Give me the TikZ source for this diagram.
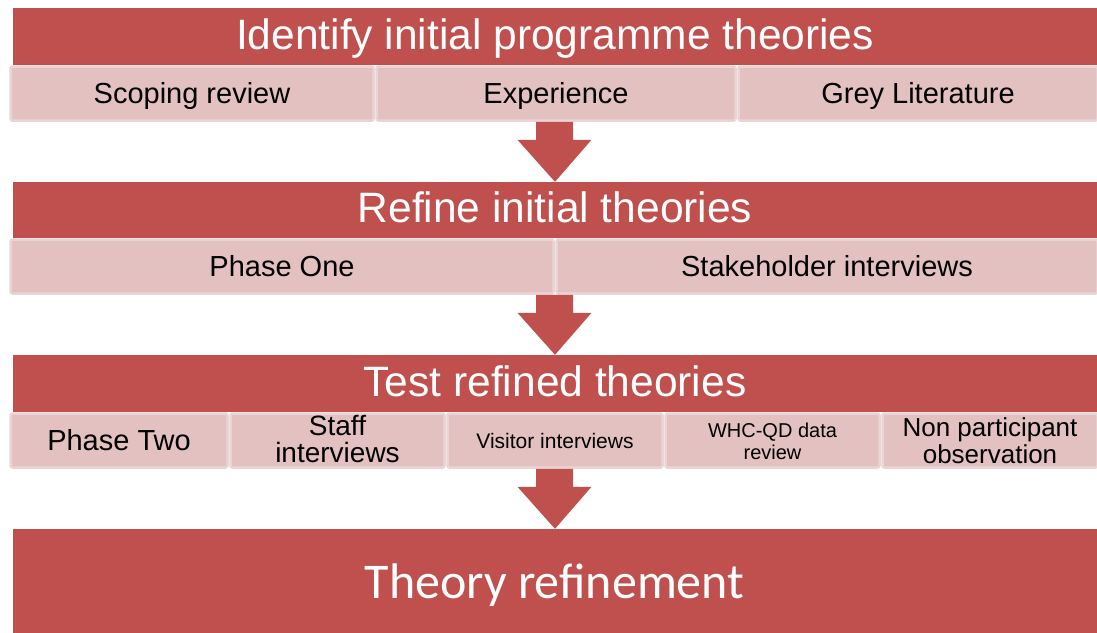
\documentclass[tikz,border=0pt]{standalone}
\usepackage{fontspec}
\setmainfont{Liberation Sans}
\newfontfamily\calfont{Carlito}
\definecolor{barred}{HTML}{C0504D}
\definecolor{subfill}{HTML}{E2C1C0}
\definecolor{subedge}{HTML}{EBD4D4}
\begin{document}
\begin{tikzpicture}[x=1pt,y=-1pt,
  bar/.style={fill=barred, draw=none, inner sep=0pt, minimum width=1084pt},
  subbox/.style={fill=subfill, draw=subedge, line width=2.5pt, rounded corners=2pt, inner sep=0pt, minimum height=54pt},
  title/.style={text=white, inner sep=0pt, anchor=base, font=\fontsize{42.5}{45}\selectfont},
  subtext/.style={text=black, inner sep=0pt, anchor=base, align=center},
  downarrow/.style={fill=barred, draw=none}]
\useasboundingbox (0,0) rectangle (1097,632);
\clip (0,0) rectangle (1097,632);
\fill[white] (0,0) rectangle (1097,632);
% bars
\node[bar, minimum height=57pt] (b1) at (555,36.5) {};
\node[bar, minimum height=56pt] (b2) at (555,210) {};
\node[bar, minimum height=57pt] (b3) at (555,383.5) {};
\node[bar, minimum height=111pt] (b4) at (555,584.5) {};
% sub boxes row 1
\node[subbox, minimum width=363pt] (s11) at (192,93.5) {};
\node[subbox, minimum width=359pt] (s12) at (556,93.5) {};
\node[subbox, minimum width=359pt] (s13) at (918,93.5) {};
% row 2
\node[subbox, minimum width=543pt] (s21) at (282,266.5) {};
\node[subbox, minimum width=541pt] (s22) at (827,266.5) {};
% row 3
\node[subbox, minimum width=217pt] (s31) at (119,440.5) {};
\node[subbox, minimum width=214pt] (s32) at (337.5,440.5) {};
\node[subbox, minimum width=215pt] (s33) at (555,440.5) {};
\node[subbox, minimum width=214pt] (s34) at (772.5,440.5) {};
\node[subbox, minimum width=215pt] (s35) at (990,440.5) {};
% titles
\node[title] (t1) at (555,49.5) {Identify initial programme theories};
\node[title] (t2) at (555,222.5) {Refine initial theories};
\node[title] (t3) at (555,396) {Test refined theories};
\node[title, font=\calfont\fontsize{50}{52}\selectfont] (t4) at (554.5,598) {Theory refinement};
% sub texts
\node[subtext, font=\fontsize{29}{31}\selectfont] (x11) at (192,103) {Scoping review};
\node[subtext, font=\fontsize{29}{31}\selectfont] (x12) at (556,103) {Experience};
\node[subtext, font=\fontsize{29}{31}\selectfont] (x13) at (918,103) {Grey Literature};
\node[subtext, font=\fontsize{29}{31}\selectfont] (x21) at (282,276) {Phase One};
\node[subtext, font=\fontsize{29}{31}\selectfont] (x22) at (827,276) {Stakeholder interviews};
\node[subtext, font=\fontsize{29}{31}\selectfont] (x31) at (119,450) {Phase Two};
\node[subtext, font=\fontsize{28}{27}\selectfont] (x32) at (337.5,462) {Staff\\interviews};
\node[subtext, font=\fontsize{21}{23}\selectfont] (x33) at (555,448) {Visitor interviews};
\node[subtext, font=\fontsize{20}{22}\selectfont] (x34) at (772.5,459) {WHC-QD data\\review};
\node[subtext, font=\fontsize{26}{27}\selectfont] (x35) at (990,463) {Non participant\\observation};
% arrows
\fill[downarrow] (b2.north) -- ++(-37.5,-42) -- ++(18.5,0) -- ++(0,-18) -- ++(37,0) -- ++(0,18) -- ++(18.5,0) -- cycle;
\fill[downarrow] (b3.north) -- ++(-37.5,-42) -- ++(18.5,0) -- ++(0,-18) -- ++(37,0) -- ++(0,18) -- ++(18.5,0) -- cycle;
\fill[downarrow] (b4.north) -- ++(-37.5,-42) -- ++(18.5,0) -- ++(0,-18) -- ++(37,0) -- ++(0,18) -- ++(18.5,0) -- cycle;
\end{tikzpicture}
\end{document}
